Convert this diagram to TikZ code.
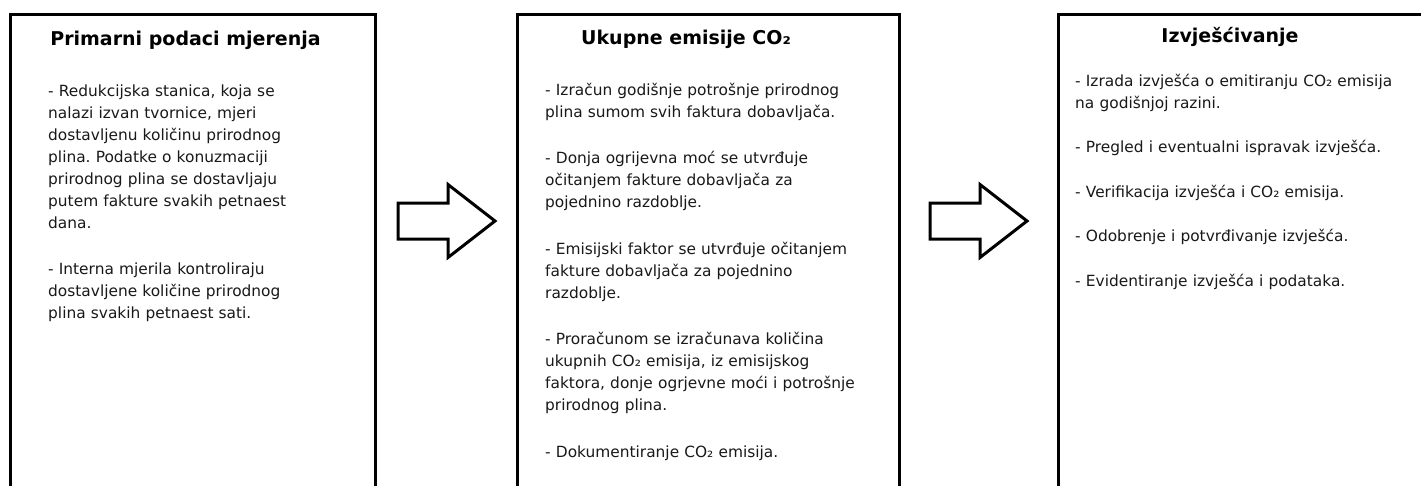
\documentclass[tikz,border=0pt]{standalone}
\usepackage{fontspec}
\setmainfont{DejaVu Sans}
\frenchspacing
\begin{document}
\begin{tikzpicture}[x=1pt,y=-1pt,
  boxnode/.style={draw=black,line width=3pt,rectangle,outer sep=0pt,inner sep=0pt,anchor=north west,minimum height=500pt},
  titletext/.style={font=\fontsize{19}{23}\selectfont\bfseries,text=black,inner sep=0pt,anchor=base},
  bodytext/.style={font=\fontsize{15.4}{22}\selectfont,text=black!90,inner sep=0pt,anchor=base west,text width=370pt,align=left},
  arrowline/.style={draw=black,line width=3pt,line join=miter,fill=white},
  blockarrow/.pic={\draw[arrowline] (0,-18) -- (50,-18) -- (50,-36.5) -- (97,0) -- (50,36.5) -- (50,18) -- (0,18) -- cycle;}
]
\useasboundingbox (0,0) rectangle (1421,485);
\clip (0,0) rectangle (1421,485);
\fill[white] (0,0) rectangle (1421,485);

% boxes
\node[boxnode,minimum width=365pt] (b1) at (10.8,14.5) {};
\node[boxnode,minimum width=382pt] (b2) at (517,14.5) {};
\node[boxnode,minimum width=380pt] (b3) at (1058,14.5) {};

% titles
\node[titletext] (t1) at (185.5,45) {Primarni podaci mjerenja};
\node[titletext] (t2) at (686,44) {Ukupne emisije CO₂};
\node[titletext] (t3) at (1230,42) {Izvješćivanje};

% body texts
\node[bodytext] (p1) at (48,96) {- Redukcijska stanica, koja se\\
nalazi izvan tvornice, mjeri\\
dostavljenu količinu prirodnog\\
plina. Podatke o konuzmaciji\\
prirodnog plina se dostavljaju\\
putem fakture svakih petnaest\\
dana.\\[24.5pt]
- Interna mjerila kontroliraju\\
dostavljene količine prirodnog\\
plina svakih petnaest sati.};

\node[bodytext] (p2) at (545,95) {- Izračun godišnje potrošnje prirodnog\\
plina sumom svih faktura dobavljača.\\[24.5pt]
- Donja ogrijevna moć se utvrđuje\\
očitanjem fakture dobavljača za\\
pojednino razdoblje.\\[24.5pt]
- Emisijski faktor se utvrđuje očitanjem\\
fakture dobavljača za pojednino\\
razdoblje.\\[24.5pt]
- Proračunom se izračunava količina\\
ukupnih CO₂ emisija, iz emisijskog\\
faktora, donje ogrjevne moći i potrošnje\\
prirodnog plina.\\[24.5pt]
- Dokumentiranje CO₂ emisija.};

\node[bodytext] (p3) at (1075,86) {- Izrada izvješća o emitiranju CO₂ emisija\\
na godišnjoj razini.\\[22.5pt]
- Pregled i eventualni ispravak izvješća.\\[22.5pt]
- Verifikacija izvješća i CO₂ emisija.\\[22.5pt]
- Odobrenje i potvrđivanje izvješća.\\[22.5pt]
- Evidentiranje izvješća i podataka.};

% block arrows
\pic at (398,221) {blockarrow};
\pic at (930,221) {blockarrow};
\end{tikzpicture}
\end{document}
